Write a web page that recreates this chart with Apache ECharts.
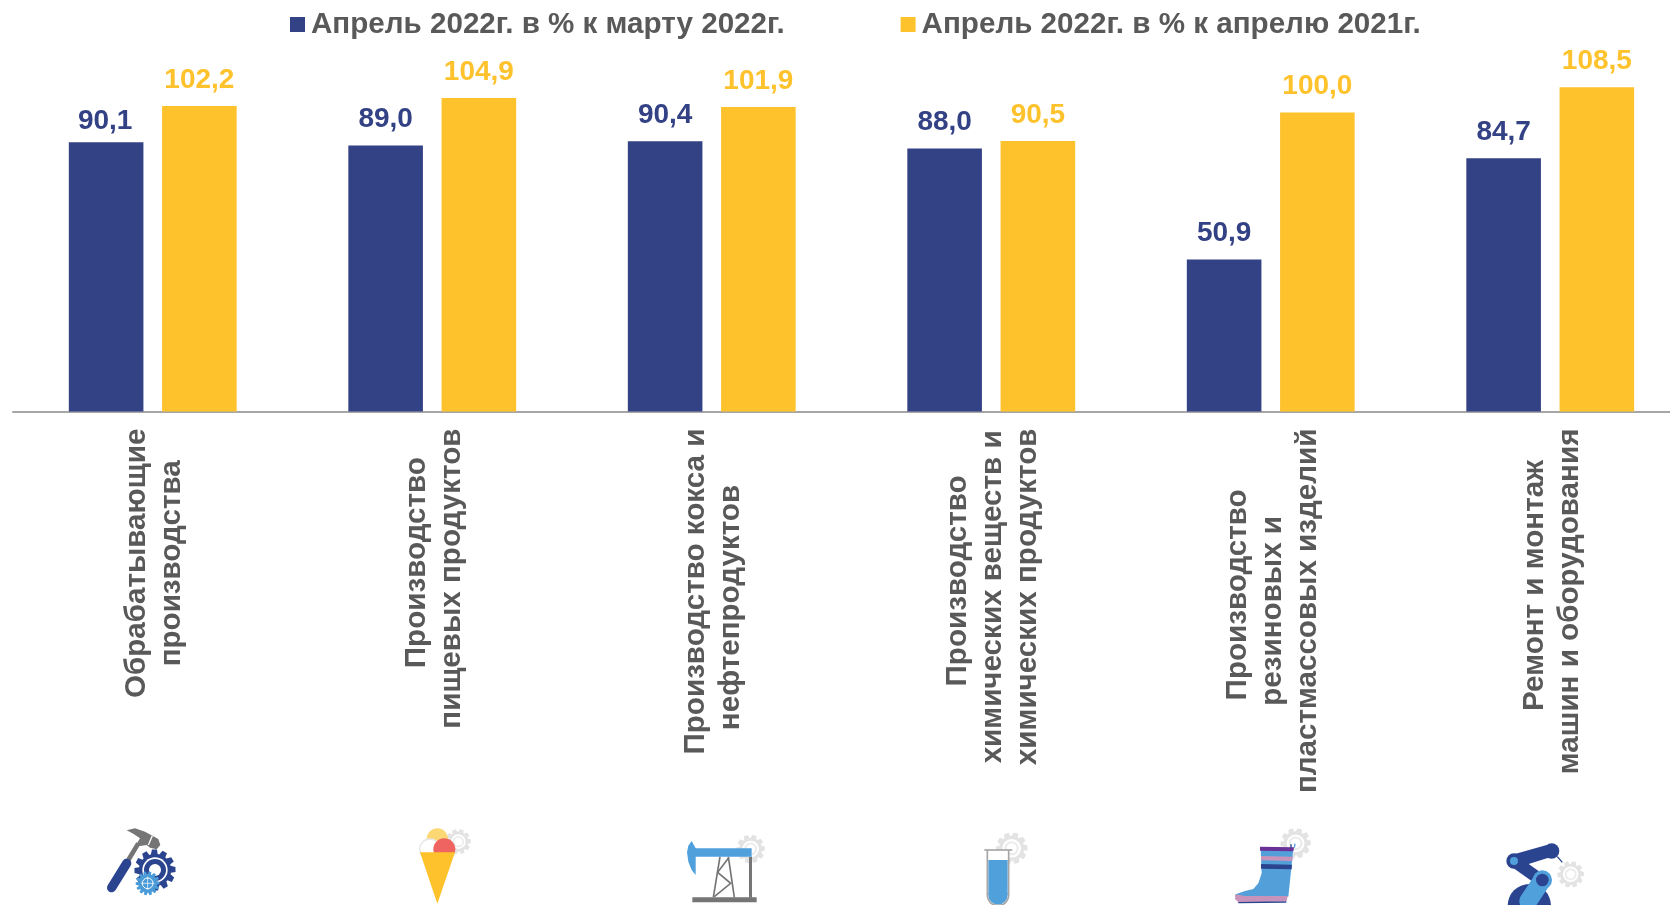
<!DOCTYPE html>
<html>
<head>
<meta charset="utf-8">
<style>
html, body { margin: 0; padding: 0; background: #fff; }
#chart { width: 1670px; height: 905px; }
</style>
<script src="https://cdn.jsdelivr.net/npm/echarts@6/dist/echarts.min.js"></script>
</head>
<body>
<div id="chart"></div>
<script>
let seriesNames = ['Апрель 2022г. в % к марту 2022г.', 'Апрель 2022г. в % к апрелю 2021г.'];
let categories = [
    ['Обрабатывающие', 'производства'],
    ['Производство', 'пищевых продуктов'],
    ['Производство кокса и', 'нефтепродуктов'],
    ['Производство', 'химических веществ и', 'химических продуктов'],
    ['Производство', 'резиновых и', 'пластмассовых изделий'],
    ['Ремонт и монтаж', 'машин и оборудования']
];
let monthValues = [90.1, 89.0, 90.4, 88.0, 50.9, 84.7];
let yearValues = [102.2, 104.9, 101.9, 90.5, 100.0, 108.5];

const NAVY = '#334185';
const YELLOW = '#fec22d';
const TEXT = '#595959';
const FONT = '"Liberation Sans", Arial, sans-serif';
const GEAR = '#e3e3e3';
const SKY = '#50a0dc';
const DARK = '#2b4490';
const STEEL = '#757575';

function formatValue(v) {
    return v.toFixed(1).replace('.', ',');
}

// first line of most labels sits a bit further up than the others
function categoryLabel(lines, idx) {
    return lines.map(function (line, i) {
        return (i === 0 && idx > 0 ? '{lead|' : '{c|') + line + '}';
    }).join('\n');
}

function gearPoints(cx, cy, r, teeth) {
    let pts = [];
    let step = Math.PI * 2 / teeth;
    for (let i = 0; i < teeth; i++) {
        let a = i * step;
        [[-0.5, 0.78], [-0.28, 1], [0.18, 1], [0.32, 0.78]].forEach(function (p) {
            let ang = a + p[0] * step;
            pts.push([cx + Math.cos(ang) * r * p[1], cy + Math.sin(ang) * r * p[1]]);
        });
    }
    return pts;
}

function poly(points, fill) {
    return { type: 'polygon', shape: { points: points }, style: { fill: fill } };
}
function circle(cx, cy, r, fill) {
    return { type: 'circle', shape: { cx: cx, cy: cy, r: r }, style: { fill: fill } };
}
function ring(cx, cy, r, color, width) {
    return { type: 'circle', shape: { cx: cx, cy: cy, r: r }, style: { fill: null, stroke: color, lineWidth: width } };
}
function box(x, y, w, h, fill) {
    return { type: 'rect', shape: { x: x, y: y, width: w, height: h }, style: { fill: fill } };
}
function stroke(x1, y1, x2, y2, color, width, cap) {
    return { type: 'line', shape: { x1: x1, y1: y1, x2: x2, y2: y2 }, style: { stroke: color, lineWidth: width, lineCap: cap || 'butt' } };
}
function greyGear(cx, cy, r) {
    return [
        poly(gearPoints(cx, cy, r, 10), GEAR),
        circle(cx, cy, r * 0.58, '#fff'),
        ring(cx, cy, r * 0.38, '#ececec', r * 0.14)
    ];
}

// icons are written in 3x crop units, the group scales them down
function icon(x, y, children) {
    return { type: 'group', x: x, y: y, scaleX: 1 / 3, scaleY: 1 / 3, silent: true, children: children };
}

let icons = [
    icon(95, 815, [
        stroke(130, 85, 100, 135, STEEL, 14),
        stroke(95, 145, 50, 218, DARK, 28, 'round'),
        poly([[95, 46], [120, 40], [150, 50], [190, 72], [196, 90], [185, 103], [165, 98], [155, 90], [120, 95], [135, 70], [115, 56]], STEEL),
        stroke(172, 62, 160, 90, '#fff', 4),
        poly(gearPoints(180, 165, 62, 12), DARK),
        circle(180, 165, 38, '#fff'),
        circle(180, 165, 33, DARK),
        circle(180, 165, 18, '#fff'),
        poly(gearPoints(158, 205, 36, 14), '#4a9bd8'),
        ring(158, 205, 16, '#fff', 3),
        stroke(138, 205, 178, 205, '#fff', 2),
        stroke(158, 185, 158, 225, '#fff', 2)
    ]),
    icon(395, 815, [
        ...greyGear(190, 80, 38),
        circle(127, 72, 32, '#fbd873'),
        { type: 'circle', shape: { cx: 105, cy: 103, r: 31 }, style: { fill: '#fff', stroke: '#e6e6e6', lineWidth: 4 } },
        circle(148, 103, 33, '#ef6461'),
        poly([[75, 112], [180, 112], [127, 266]], YELLOW)
    ]),
    icon(675, 815, [
        ...greyGear(227, 102, 43),
        box(222, 125, 9, 123, STEEL),
        stroke(135, 125, 115, 247, STEEL, 5),
        stroke(160, 125, 178, 247, STEEL, 5),
        { type: 'polyline', shape: { points: [[160, 130], [128, 172], [167, 205], [118, 245]] }, style: { fill: null, stroke: STEEL, lineWidth: 5 } },
        box(52, 247, 193, 15, STEEL),
        poly([[50, 78], [40, 92], [36, 112], [40, 140], [50, 165], [62, 180], [62, 100]], SKY),
        box(60, 100, 170, 25, SKY)
    ]),
    icon(960, 815, [
        ...greyGear(155, 100, 48),
        box(82, 105, 64, 140, '#fff'),
        box(85, 135, 58, 105, SKY),
        circle(114, 240, 29, SKY),
        stroke(82, 105, 82, 240, '#a6a6a6', 5),
        stroke(146, 105, 146, 240, '#a6a6a6', 5),
        { type: 'arc', shape: { cx: 114, cy: 240, r: 32, startAngle: 0, endAngle: Math.PI, clockwise: true }, style: { fill: null, stroke: '#a6a6a6', lineWidth: 5 } },
        stroke(73, 105, 157, 105, '#a6a6a6', 5)
    ]),
    icon(1225, 815, [
        ...greyGear(212, 85, 46),
        poly([[107, 100], [205, 100], [200, 150], [190, 245], [30, 245], [32, 238], [60, 228], [85, 222], [100, 205], [110, 175]], '#539fda'),
        poly([[32, 238], [60, 243], [188, 243], [185, 258], [120, 262], [40, 262], [30, 252]], '#c893bb'),
        stroke(40, 263, 184, 261, DARK, 4),
        poly([[105, 95], [207, 97], [205, 109], [105, 107]], '#6a3196'),
        poly([[108, 123], [203, 125], [202, 138], [108, 136]], '#c893bb'),
        poly([[108, 147], [201, 149], [200, 163], [108, 161]], DARK),
        stroke(198, 88, 198, 98, DARK, 4),
        stroke(210, 86, 208, 98, SKY, 4)
    ]),
    icon(1500, 815, [
        ...greyGear(212, 178, 40),
        circle(88, 272, 65, DARK),
        stroke(172, 125, 187, 142, DARK, 4),
        poly([[42, 118], [140, 90], [155, 125], [50, 158]], DARK),
        circle(155, 108, 23, DARK),
        stroke(42, 138, 122, 195, DARK, 36),
        circle(42, 138, 23, DARK),
        circle(42, 138, 12, SKY),
        stroke(127, 195, 85, 258, SKY, 54, 'round'),
        circle(127, 195, 29, SKY),
        circle(127, 195, 19, DARK)
    ])
];

let chart = echarts.init(document.getElementById('chart'));
let labelRich = {
    fontFamily: FONT,
    fontSize: 29.6,
    fontWeight: 'bold',
    color: TEXT,
    lineHeight: 35,
    align: 'center'
};
let option = {
    animation: false,
    backgroundColor: '#fff',
    textStyle: { fontFamily: FONT },
    legend: {
        left: 285,
        top: 4.5,
        itemWidth: 15,
        itemHeight: 15,
        itemGap: 116,
        icon: 'rect',
        selectedMode: false,
        textStyle: { fontFamily: FONT, fontSize: 29.6, fontWeight: 'bold', color: TEXT, padding: [0, 0, 0, 1] },
        data: seriesNames
    },
    grid: { left: 13, top: 52.8, width: 1677, height: 358.8, outerBoundsMode: 'none' },
    xAxis: {
        type: 'category',
        data: categories.map(function (c) { return c.join(' '); }),
        axisTick: { show: false },
        axisLine: { lineStyle: { color: '#a6a6a6', width: 2 } },
        axisLabel: {
            interval: 0,
            rotate: 90,
            margin: 17,
            padding: [4, 0, 0, 0],
            hideOverlap: false,
            formatter: function (value, idx) { return categoryLabel(categories[idx], idx); },
            rich: {
                c: labelRich,
                lead: Object.assign({}, labelRich, { padding: [0, 0, 0, 32] })
            }
        }
    },
    yAxis: { type: 'value', min: 0, max: 120, show: false },
    series: [
        {
            name: seriesNames[0],
            type: 'bar',
            barWidth: 74.6,
            barGap: '25%',
            itemStyle: { color: NAVY },
            label: {
                show: true,
                position: 'top',
                distance: 12,
                fontFamily: FONT,
                fontSize: 28,
                fontWeight: 'bold',
                color: NAVY,
                formatter: function (p) { return formatValue(p.value); }
            },
            data: monthValues.map(function (v, i) {
                return i === 0 ? { value: v, label: { offset: [-1, 5] } } : v;
            })
        },
        {
            name: seriesNames[1],
            type: 'bar',
            barWidth: 74.6,
            itemStyle: { color: YELLOW },
            label: {
                show: true,
                position: 'top',
                distance: 12,
                fontFamily: FONT,
                fontSize: 28,
                fontWeight: 'bold',
                color: YELLOW,
                formatter: function (p) { return formatValue(p.value); }
            },
            data: yearValues
        }
    ],
    graphic: { elements: icons }
};
chart.setOption(option);
</script>
</body>
</html>
